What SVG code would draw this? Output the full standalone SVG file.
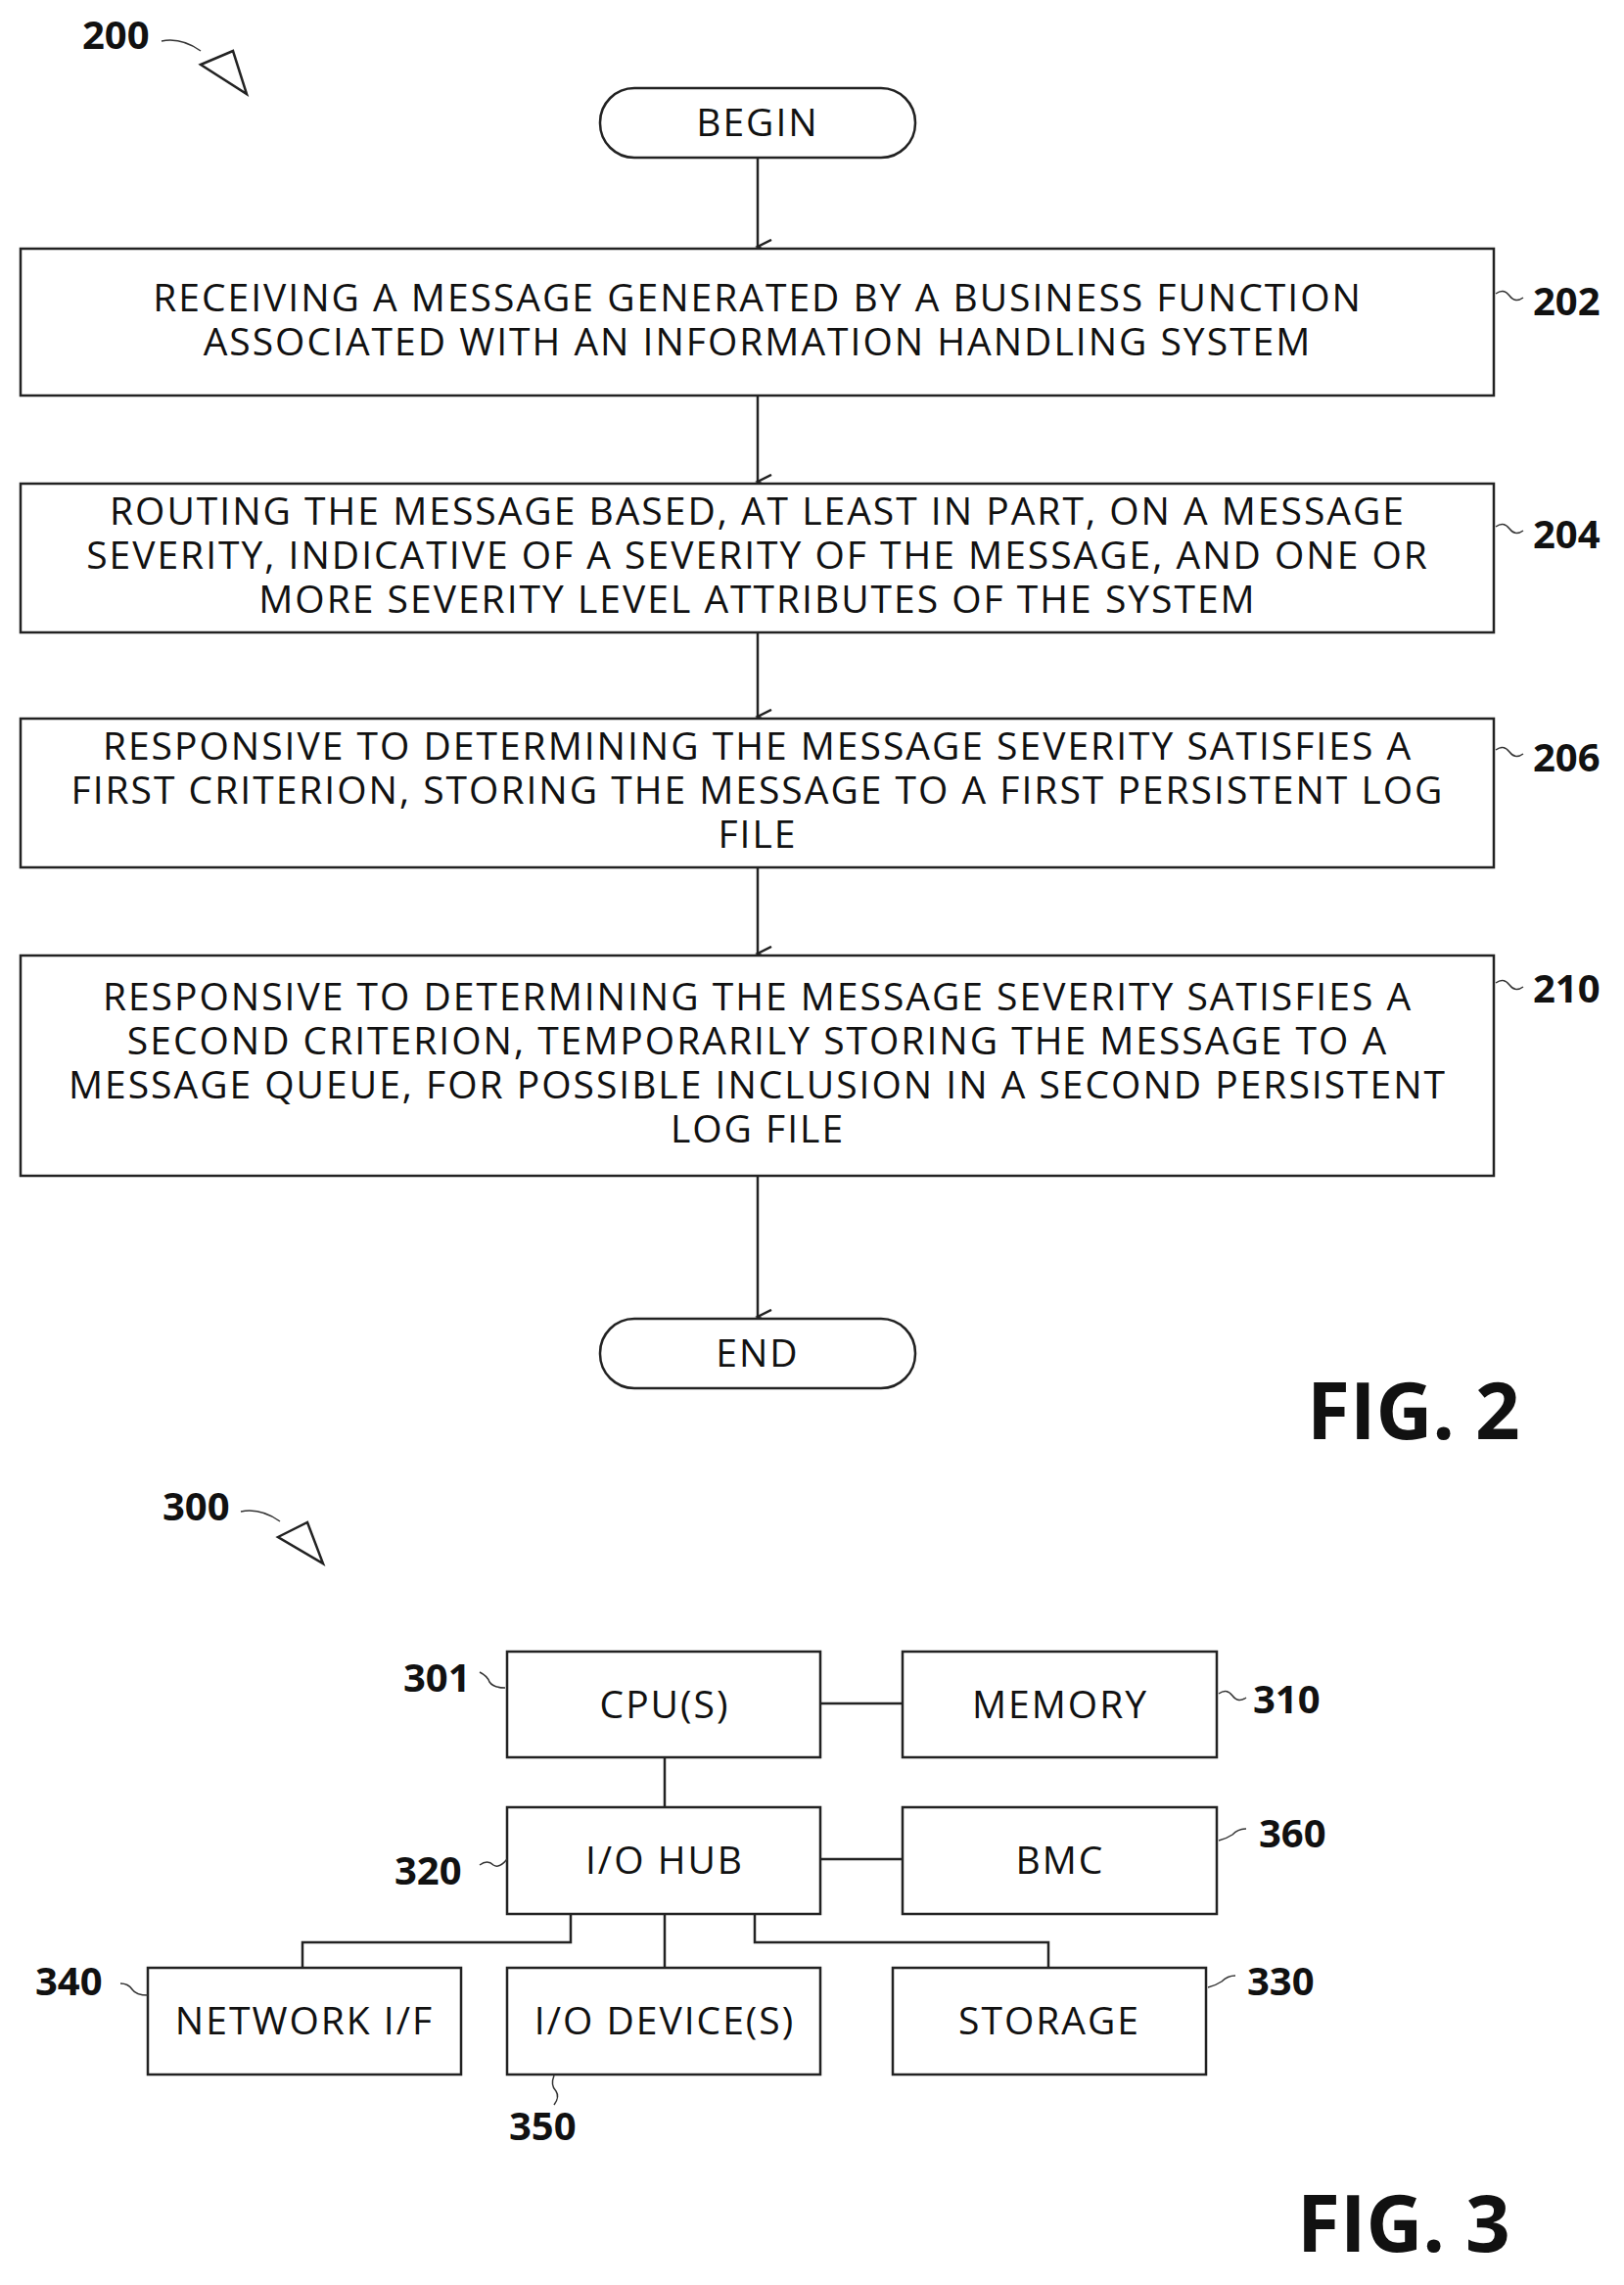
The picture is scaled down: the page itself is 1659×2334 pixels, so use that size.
<svg xmlns="http://www.w3.org/2000/svg" width="1659" height="2334" viewBox="0 0 1659 2334">
<style>
.b{fill:#fff;stroke:#222;stroke-width:2.5}
.t{font-family:"Open Sans","Liberation Sans",sans-serif;font-size:39px;fill:#111;text-anchor:middle;letter-spacing:2px}
.r{font-family:"Open Sans","Liberation Sans",sans-serif;font-size:40px;font-weight:bold;fill:#111}
.f{font-family:"Open Sans","Liberation Sans",sans-serif;font-size:80px;font-weight:bold;fill:#111}
.c{fill:none;stroke:#222;stroke-width:2.5}
.s{fill:none;stroke:#333;stroke-width:1.5}
</style>
<defs><marker id="a" markerWidth="20" markerHeight="20" refX="8" refY="15" orient="auto" markerUnits="userSpaceOnUse"><path d="M1,1 L8,15 L15,1" fill="none" stroke="#222" stroke-width="2.5"/></marker></defs>
<g id="ref200"><text class="r" x="84" y="50">200</text><path class="s" d="M165,42 q20,-4 40,10"/><path class="c" d="M205,66 L238,52 L252,96 Z"/></g>
<g id="connectors">
<line class="c" x1="774" y1="161" x2="774" y2="252" marker-end="url(#a)"/>
<line class="c" x1="774" y1="404" x2="774" y2="492" marker-end="url(#a)"/>
<line class="c" x1="774" y1="646" x2="774" y2="732" marker-end="url(#a)"/>
<line class="c" x1="774" y1="886" x2="774" y2="974" marker-end="url(#a)"/>
<line class="c" x1="774" y1="1201" x2="774" y2="1345" marker-end="url(#a)"/>
<line class="c" x1="838" y1="1740" x2="922" y2="1740"/>
<line class="c" x1="679" y1="1795" x2="679" y2="1846"/>
<line class="c" x1="838" y1="1899" x2="922" y2="1899"/>
<path class="c" d="M583,1955 V1984 H309 V2010"/>
<line class="c" x1="679" y1="1955" x2="679" y2="2010"/>
<path class="c" d="M771,1955 V1984 H1071 V2010"/>
</g>
<g id="begin"><rect class="b" x="613" y="90" width="322" height="71" rx="35"/><text class="t" x="774" y="139">BEGIN</text></g>
<g id="n202"><rect class="b" x="21" y="254" width="1505" height="150"/>
<text class="t" x="774" y="318">RECEIVING A MESSAGE GENERATED BY A BUSINESS FUNCTION</text>
<text class="t" x="774" y="363">ASSOCIATED WITH AN INFORMATION HANDLING SYSTEM</text>
<path class="s" d="M1528,300 q8,-6 14,2 q6,8 14,2"/><text class="r" x="1566" y="322">202</text></g>
<g id="n204"><rect class="b" x="21" y="494" width="1505" height="152"/>
<text class="t" x="774" y="536">ROUTING THE MESSAGE BASED, AT LEAST IN PART, ON A MESSAGE</text>
<text class="t" x="774" y="581">SEVERITY, INDICATIVE OF A SEVERITY OF THE MESSAGE, AND ONE OR</text>
<text class="t" x="774" y="626">MORE SEVERITY LEVEL ATTRIBUTES OF THE SYSTEM</text>
<path class="s" d="M1528,538 q8,-6 14,2 q6,8 14,2"/><text class="r" x="1566" y="560">204</text></g>
<g id="n206"><rect class="b" x="21" y="734" width="1505" height="152"/>
<text class="t" x="774" y="776">RESPONSIVE TO DETERMINING THE MESSAGE SEVERITY SATISFIES A</text>
<text class="t" x="774" y="821">FIRST CRITERION, STORING THE MESSAGE TO A FIRST PERSISTENT LOG</text>
<text class="t" x="774" y="866">FILE</text>
<path class="s" d="M1528,766 q8,-6 14,2 q6,8 14,2"/><text class="r" x="1566" y="788">206</text></g>
<g id="n210"><rect class="b" x="21" y="976" width="1505" height="225"/>
<text class="t" x="774" y="1032">RESPONSIVE TO DETERMINING THE MESSAGE SEVERITY SATISFIES A</text>
<text class="t" x="774" y="1077">SECOND CRITERION, TEMPORARILY STORING THE MESSAGE TO A</text>
<text class="t" x="774" y="1122">MESSAGE QUEUE, FOR POSSIBLE INCLUSION IN A SECOND PERSISTENT</text>
<text class="t" x="774" y="1167">LOG FILE</text>
<path class="s" d="M1528,1004 q8,-6 14,2 q6,8 14,2"/><text class="r" x="1566" y="1024">210</text></g>
<g id="end"><rect class="b" x="613" y="1347" width="322" height="71" rx="35"/><text class="t" x="774" y="1396">END</text></g>
<text class="f" x="1335" y="1470">FIG. 2</text>
<g id="ref300"><text class="r" x="166" y="1553">300</text><path class="s" d="M246,1544 q20,-4 40,10"/><path class="c" d="M284,1570 L314,1555 L330,1597 Z"/></g>
<g id="n301"><rect class="b" x="518" y="1687" width="320" height="108"/><text class="t" x="679" y="1755">CPU(S)</text><path class="s" d="M490,1708 q8,4 10,10 q4,6 16,6"/><text class="r" x="412" y="1728">301</text></g>
<g id="n310"><rect class="b" x="922" y="1687" width="321" height="108"/><text class="t" x="1083" y="1755">MEMORY</text><path class="s" d="M1245,1730 q8,-6 14,2 q6,8 14,2"/><text class="r" x="1280" y="1750">310</text></g>
<g id="n320"><rect class="b" x="518" y="1846" width="320" height="109"/><text class="t" x="679" y="1914">I/O HUB</text><path class="s" d="M490,1905 q8,-6 14,0 q6,4 14,-6"/><text class="r" x="403" y="1925">320</text></g>
<g id="n360"><rect class="b" x="922" y="1846" width="321" height="109"/><text class="t" x="1083" y="1914">BMC</text><path class="s" d="M1245,1880 q8,-2 14,-6 q6,-6 14,-6"/><text class="r" x="1286" y="1887">360</text></g>
<g id="n340"><rect class="b" x="151" y="2010" width="320" height="109"/><text class="t" x="311" y="2078">NETWORK I/F</text><path class="s" d="M123,2026 q8,0 12,6 q4,6 16,6"/><text class="r" x="36" y="2038">340</text></g>
<g id="n350"><rect class="b" x="518" y="2010" width="320" height="109"/><text class="t" x="679" y="2078">I/O DEVICE(S)</text><path class="s" d="M566,2120 q-4,10 2,16 q4,6 -2,14"/><text class="r" x="520" y="2186">350</text></g>
<g id="n330"><rect class="b" x="912" y="2010" width="320" height="109"/><text class="t" x="1072" y="2078">STORAGE</text><path class="s" d="M1234,2030 q8,-2 14,-6 q6,-6 14,-6"/><text class="r" x="1274" y="2038">330</text></g>
<text class="f" x="1325" y="2300">FIG. 3</text>
</svg>
